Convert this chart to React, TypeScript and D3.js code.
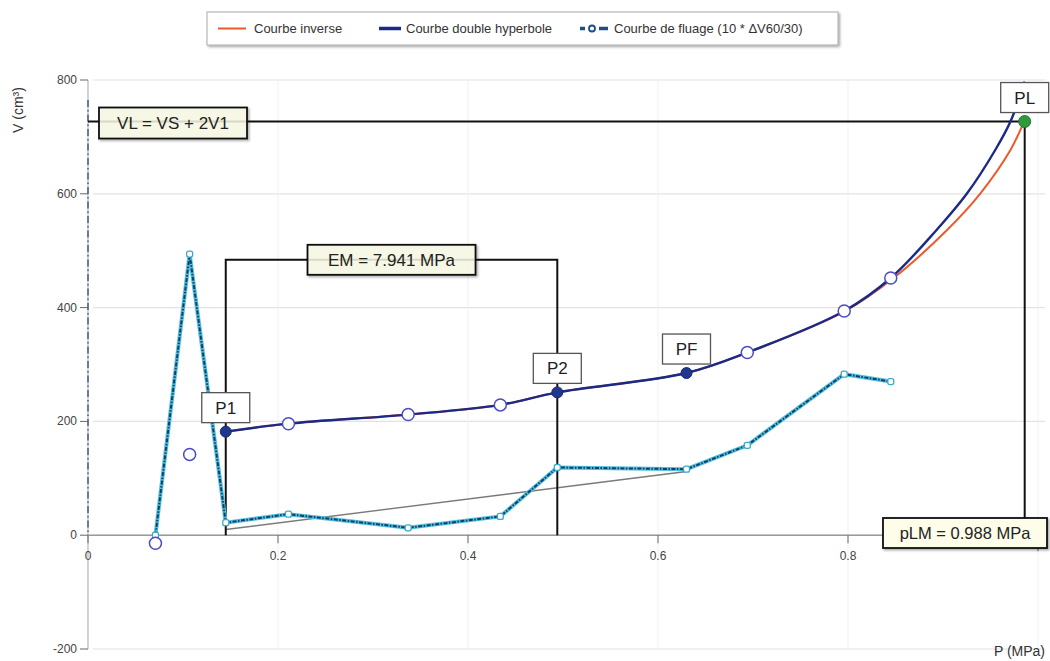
import React from "react";
import * as d3 from "d3";

// Measured points of the pressure curve (open circles)
const MEAS_P = [0.071, 0.107, 0.211, 0.337, 0.434, 0.694, 0.796, 0.845];
const MEAS_V = [-14, 142, 196, 212, 229, 321, 394, 452];

// Characteristic points
const KEY_NAMES = ["P1", "P2", "PF"];
const KEY_P = [0.145, 0.494, 0.630];
const KEY_V = [182, 251, 285];
const PL_P = 0.986;
const PL_V = 727;

// Creep curve (10 * ΔV60/30)
const CREEP_P = [0.071, 0.107, 0.145, 0.211, 0.337, 0.434, 0.494, 0.630, 0.694, 0.796, 0.845];
const CREEP_V = [0, 494, 22, 37, 13, 33, 119, 116, 158, 283, 270];

// Double hyperbola fit
const HYP_P = [0.145, 0.211, 0.337, 0.434, 0.494, 0.630, 0.694, 0.796, 0.845, 0.893, 0.925, 0.955, 0.971, 0.986];
const HYP_V = [182, 196, 212, 229, 251, 285, 321, 394, 452, 536, 600, 677, 727, 797];

// Inverse curve fit
const INV_P = [0.145, 0.211, 0.337, 0.434, 0.494, 0.630, 0.694, 0.796, 0.848, 0.904, 0.939, 0.971, 0.984];
const INV_V = [182, 196, 212, 229, 251, 285, 321, 393, 452, 536, 600, 677, 722];

// Creep trend segment between P1 and PF
const TREND_P = [0.145, 0.630];
const TREND_V = [10, 112];

const X_TICKS = [0, 0.2, 0.4, 0.6, 0.8];
const Y_TICKS = [-200, 0, 200, 400, 600, 800];

const EM_LABEL = "EM = 7.941 MPa";
const VL_LABEL = "VL = VS + 2V1";
const PLM_LABEL = "pLM = 0.988 MPa";

const FONT = "'Liberation Sans', Arial, sans-serif";

export default function App() {
  const W = 1050;
  const H = 661;
  const x = d3.scaleLinear().domain([0, 1]).range([88, 1038]);
  const y = d3.scaleLinear().domain([-200, 800]).range([649, 80]);
  const xEnd = 1045;

  const zip = (ps: number[], vs: number[]) => ps.map((p, i) => [p, vs[i]] as [number, number]);
  const line = d3
    .line<[number, number]>()
    .x((d) => x(d[0]))
    .y((d) => y(d[1]))
    .curve(d3.curveCatmullRom.alpha(0.5));
  const poly = d3
    .line<[number, number]>()
    .x((d) => x(d[0]))
    .y((d) => y(d[1]));

  const p1x = x(KEY_P[0]);
  const p2x = x(KEY_P[1]);
  const emY = y(484);
  const plx = x(PL_P);
  const ply = y(PL_V);
  const y0 = y(0);

  const keyPts = KEY_P.map((p, i) => ({ name: KEY_NAMES[i], p, v: KEY_V[i] }));

  return (
    <svg
      width={W}
      height={H}
      style={{ position: "absolute", left: 0, top: 0, background: "#fff" }}
      fontFamily={FONT}
    >
      <defs>
        <filter id="shadow" x="-10%" y="-20%" width="130%" height="160%">
          <feDropShadow dx="1.5" dy="1.5" stdDeviation="1.2" floodColor="#000" floodOpacity="0.35" />
        </filter>
      </defs>

      {/* grid */}
      {Y_TICKS.map((t) => (
        <line key={"gy" + t} x1={93} x2={xEnd} y1={y(t)} y2={y(t)} stroke="#e2e2e2" strokeWidth={1.2} />
      ))}
      {[0.2, 0.4, 0.6, 0.8, 1.0].map((t) => (
        <line key={"gx" + t} x1={x(t)} x2={x(t)} y1={y(800)} y2={y(-200)} stroke="#f1f1f1" strokeWidth={1} />
      ))}

      {/* axes */}
      <line x1={x(0)} x2={x(0)} y1={y(800)} y2={y(-200)} stroke="#b5b5b5" strokeWidth={1.2} />
      <line x1={x(0)} x2={x(0)} y1={y(800) + 20} y2={y0} stroke="#27406e" strokeWidth={1.2} strokeDasharray="7,3,1.5,3" />
      <line x1={x(0)} x2={xEnd} y1={y0} y2={y0} stroke="#9a9a9a" strokeWidth={1.5} />
      {Y_TICKS.map((t) => (
        <g key={"ty" + t}>
          <line x1={80} x2={88} y1={y(t)} y2={y(t)} stroke="#666" strokeWidth={1} />
          <text x={77} y={y(t) + 4} textAnchor="end" fontSize={12} fill="#444">
            {t}
          </text>
        </g>
      ))}
      {X_TICKS.map((t) => (
        <g key={"tx" + t}>
          <line x1={x(t)} x2={x(t)} y1={y0} y2={y0 + 8} stroke="#666" strokeWidth={1} />
          <text x={x(t)} y={y0 + 25} textAnchor="middle" fontSize={12} fill="#444">
            {t === 0 ? "0" : t.toFixed(1)}
          </text>
        </g>
      ))}
      <line x1={x(1)} x2={x(1)} y1={y0} y2={y0 + 16} stroke="#666" strokeWidth={1} />
      <text transform={`translate(23,110) rotate(-90)`} textAnchor="middle" fontSize={14} fill="#333">
        V (cm³)
      </text>
      <text x={1045} y={656} textAnchor="end" fontSize={14} fill="#333">
        P (MPa)
      </text>

      {/* trend segment */}
      <path d={poly(zip(TREND_P, TREND_V)) || ""} fill="none" stroke="#7a7a7a" strokeWidth={1.4} />

      {/* EM bracket */}
      <path
        d={`M${p1x},${y0}V${emY}H${p2x}V${y0}`}
        fill="none"
        stroke="#111"
        strokeWidth={2}
      />
      {/* VL and PL guides */}
      <line x1={x(0)} x2={plx} y1={ply} y2={ply} stroke="#111" strokeWidth={2} />
      <line x1={plx} x2={plx} y1={ply} y2={y0} stroke="#111" strokeWidth={2} />

      {/* creep curve */}
      <path d={poly(zip(CREEP_P, CREEP_V)) || ""} fill="none" stroke="#4cc0dc" strokeWidth={4} />
      <path
        d={poly(zip(CREEP_P, CREEP_V)) || ""}
        fill="none"
        stroke="#173c6b"
        strokeWidth={2}
        strokeDasharray="4,1.5,1.5,1.5"
      />
      {zip(CREEP_P, CREEP_V).map((d, i) => (
        <rect
          key={"c" + i}
          x={x(d[0]) - 3}
          y={y(d[1]) - 3}
          width={6}
          height={6}
          rx={2}
          fill="#fff"
          stroke="#3aaacb"
          strokeWidth={1.3}
        />
      ))}

      {/* fitted curves */}
      <path d={line(zip(INV_P, INV_V)) || ""} fill="none" stroke="#ec5a2c" strokeWidth={2} />
      <path d={line(zip(HYP_P, HYP_V)) || ""} fill="none" stroke="#1b2a86" strokeWidth={2.4} />

      {/* measured points */}
      {zip(MEAS_P, MEAS_V).map((d, i) => (
        <circle key={"m" + i} cx={x(d[0])} cy={y(d[1])} r={6} fill="#fff" stroke="#4b4cc4" strokeWidth={1.5} />
      ))}

      {/* characteristic points */}
      {keyPts.map((k) => (
        <circle key={k.name} cx={x(k.p)} cy={y(k.v)} r={5.5} fill="#20378f" stroke="#16286e" strokeWidth={1} />
      ))}
      <circle cx={plx} cy={ply} r={6} fill="#2f9a3c" stroke="#1f7a2c" strokeWidth={1} />

      {/* point labels */}
      {[...keyPts, { name: "PL", p: PL_P, v: PL_V }].map((k) => {
        const cx = x(k.p);
        const cy = y(k.v);
        return (
          <g key={"lb" + k.name}>
            <rect x={cx - 24} y={cy - 39} width={48} height={30} fill="#fff" stroke="#555" strokeWidth={1.3} />
            <text x={cx} y={cy - 18} textAnchor="middle" fontSize={17} fill="#222">
              {k.name}
            </text>
          </g>
        );
      })}

      {/* value boxes */}
      <g filter="url(#shadow)">
        <rect x={(p1x + p2x) / 2 - 84} y={emY - 15} width={168} height={30} fill="#fdfde9" fillOpacity={0.82} stroke="#111" strokeWidth={1.8} />
      </g>
      <text x={(p1x + p2x) / 2} y={emY + 6} textAnchor="middle" fontSize={17} fill="#222">
        {EM_LABEL}
      </text>

      <g filter="url(#shadow)">
        <rect x={99} y={ply - 14} width={148} height={31} fill="#fdfde9" fillOpacity={0.82} stroke="#111" strokeWidth={1.8} />
      </g>
      <text x={173} y={ply + 7} textAnchor="middle" fontSize={17} fill="#222">
        {VL_LABEL}
      </text>

      <g filter="url(#shadow)">
        <rect x={883} y={518} width={164} height={30} fill="#fdfde9" stroke="#111" strokeWidth={1.8} />
      </g>
      <text x={965} y={539} textAnchor="middle" fontSize={16.5} fill="#222">
        {PLM_LABEL}
      </text>

      {/* legend */}
      <g filter="url(#shadow)">
        <rect x={207} y={12} width={631} height={33} fill="#fff" stroke="#aaa" strokeWidth={1} />
      </g>
      <line x1={218} x2={246} y1={28.5} y2={28.5} stroke="#ec5a2c" strokeWidth={2} />
      <text x={254} y={33} fontSize={13} fill="#333">
        Courbe inverse
      </text>
      <line x1={379} x2={401} y1={28.5} y2={28.5} stroke="#1b2a86" strokeWidth={3.5} />
      <text x={406} y={33} fontSize={13} fill="#333">
        Courbe double hyperbole
      </text>
      <line x1={580} x2={585} y1={28.5} y2={28.5} stroke="#1b4f86" strokeWidth={3.5} />
      <circle cx={592} cy={28.5} r={3} fill="#fff" stroke="#1b4f86" strokeWidth={1.8} />
      <line x1={599} x2={608} y1={28.5} y2={28.5} stroke="#1b4f86" strokeWidth={3.5} />
      <text x={614} y={33} fontSize={13} fill="#333">
        Courbe de fluage (10 * ΔV60/30)
      </text>
    </svg>
  );
}
